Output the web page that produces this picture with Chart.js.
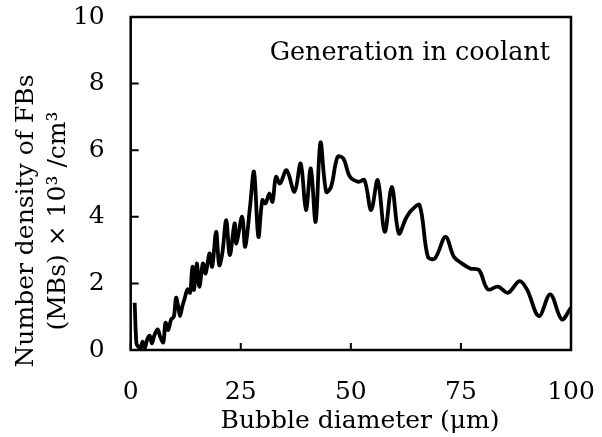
<!DOCTYPE html>
<html>
<head>
<meta charset="utf-8">
<script src="https://cdn.jsdelivr.net/npm/chart.js@4.4.1/dist/chart.umd.min.js"></script>
<style>
  html, body { margin: 0; padding: 0; background: #fff; }
  #wrap { width: 602px; height: 437px; }
</style>
</head>
<body>
<div id="wrap"><canvas id="chart"></canvas></div>
<script>
// Bubble diameter (µm) and number density (x10^3 /cm^3)
const diameter = [0.9, 1.3, 1.7, 2.2, 2.7, 3.2, 3.7, 4.3, 4.8, 5.4, 6.1, 6.7, 7.4, 7.9, 8.5, 9.2, 9.8, 10.3, 10.8, 11.2,
    11.7, 12.2, 12.9, 13.5, 14.0, 14.4, 15.0, 15.6, 16.4, 17.0, 17.9, 18.5, 19.4, 20.1, 20.8, 21.7, 22.5, 23.6, 24.0, 25.3,
    26.0, 27.1, 28.0, 29.0, 29.9, 30.6, 31.5, 32.2, 33.0, 33.9, 35.4, 37.2, 38.6, 39.8, 40.9, 42.0, 43.1, 44.4, 45.5, 47.0,
    48.3, 49.8, 51.7, 53.1, 54.6, 56.1, 57.7, 59.3, 60.9, 62.5, 63.8, 65.6, 67.5, 69.1, 71.5, 73.4, 75.2, 77.1, 79.1, 81.1,
    83.4, 85.7, 88.3, 90.0, 92.7, 95.3, 97.9, 100];
const density = [1.42, 0.2, 0.1, 0.05, 0.25, 0.05, 0.3, 0.43, 0.2, 0.45, 0.62, 0.4, 0.23, 0.82, 0.6, 0.92, 1.0, 1.57, 1.3, 1.02,
    1.3, 1.52, 1.82, 1.72, 2.5, 1.8, 2.6, 1.9, 2.6, 2.3, 2.9, 2.5, 3.55, 2.55, 2.9, 3.9, 2.85, 3.8, 3.2, 4.0,
    3.1, 4.3, 5.35, 3.4, 4.5, 4.4, 4.7, 4.45, 5.2, 5.0, 5.4, 4.75, 5.6, 4.2, 5.45, 3.85, 6.23, 4.75, 4.9, 5.8,
    5.75, 5.2, 5.05, 5.1, 4.2, 5.1, 3.55, 4.9, 3.5, 3.95, 4.2, 4.35, 2.8, 2.75, 3.4, 2.8, 2.6, 2.45, 2.4, 1.82,
    1.9, 1.72, 2.07, 1.82, 1.02, 1.67, 0.92, 1.27];

const xTicks = [0, 25, 50, 75, 100];
const yTicks = [0, 2, 4, 6, 8, 10];
const panelLabel = 'Generation in coolant';
const xTitle = 'Bubble diameter (μm)';
const yTitle = ['Number density of FBs', '(MBs) × 10³ /cm³'];

const FONT = "'DejaVu Serif', serif";

// frame box, inward tick marks, panel label and axis titles
const framePlugin = {
    id: 'frame',
    afterDatasetsDraw(chart) {
        const { ctx, chartArea: a, scales } = chart;
        ctx.save();
        ctx.strokeStyle = '#000';
        ctx.lineWidth = 2.5;
        ctx.strokeRect(a.left, a.top, a.right - a.left, a.bottom - a.top);
        ctx.lineWidth = 2;
        ctx.beginPath();
        xTicks.forEach(v => {
            const px = scales.x.getPixelForValue(v);
            ctx.moveTo(px, a.bottom);
            ctx.lineTo(px, a.bottom - 7);
        });
        yTicks.forEach(v => {
            const py = scales.y.getPixelForValue(v);
            ctx.moveTo(a.left, py);
            ctx.lineTo(a.left + 8, py);
        });
        ctx.stroke();

        ctx.fillStyle = '#000';
        ctx.font = '25.5px ' + FONT;
        ctx.textAlign = 'right';
        ctx.textBaseline = 'alphabetic';
        ctx.fillText(panelLabel, a.right - 21, 60);

        ctx.font = '25px ' + FONT;
        ctx.textAlign = 'center';
        ctx.textBaseline = 'middle';
        ctx.fillText(xTitle, 360, 421);

        ctx.translate(0, 221);
        ctx.rotate(-Math.PI / 2);
        ctx.fillText(yTitle[0], 0, 26);
        ctx.fillText(yTitle[1], 0, 58);
        ctx.restore();
    }
};

// keep the plot box fixed: no extra room for overhanging tick labels
const noOverhang = s => { s.paddingTop = 0; s.paddingBottom = 0; s.paddingLeft = 0; s.paddingRight = 0; };

new Chart(document.getElementById('chart'), {
    type: 'line',
    data: {
        datasets: [{
            data: diameter.map((d, i) => ({ x: d, y: density[i] })),
            borderColor: '#000',
            borderWidth: 3.8,
            pointRadius: 0,
            tension: 0.35,
            fill: false
        }]
    },
    options: {
        responsive: true,
        maintainAspectRatio: false,
        animation: false,
        layout: { padding: { top: 17, right: 31, bottom: 0, left: 0 } },
        plugins: { legend: { display: false }, tooltip: { enabled: false } },
        scales: {
            x: {
                type: 'linear',
                min: 0,
                max: 100,
                afterBuildTicks: s => { s.ticks = xTicks.map(v => ({ value: v })); },
                afterFit: s => { s.height = 87; noOverhang(s); },
                grid: { display: false, drawTicks: false },
                border: { display: false },
                ticks: { color: '#000', padding: 27, font: { family: FONT, size: 25 } },
                title: { display: false }
            },
            y: {
                min: 0,
                max: 10,
                afterBuildTicks: s => { s.ticks = yTicks.map(v => ({ value: v })); },
                afterFit: s => { s.width = 130.7; noOverhang(s); },
                grid: { display: false, drawTicks: false },
                border: { display: false },
                ticks: { color: '#000', padding: 26, font: { family: FONT, size: 25 } },
                title: { display: false }
            }
        }
    },
    plugins: [framePlugin]
});
</script>
</body>
</html>
